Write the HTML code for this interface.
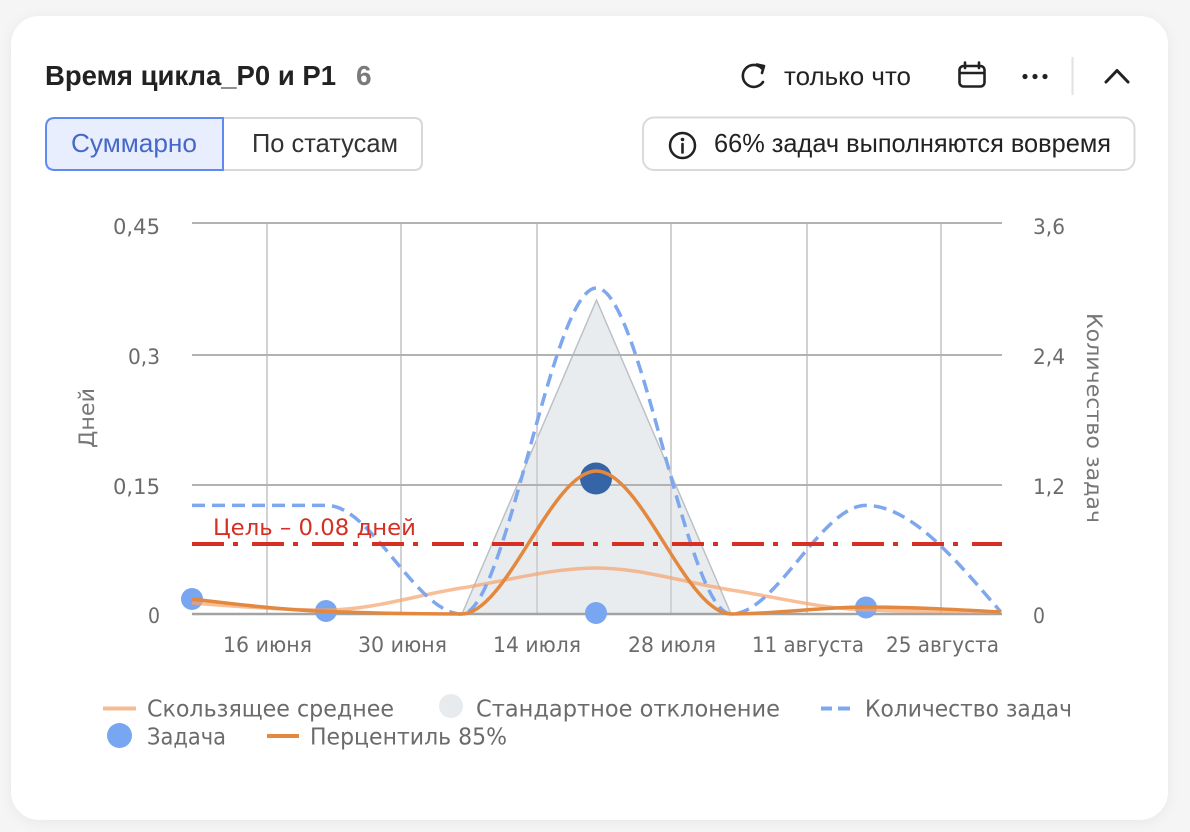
<!DOCTYPE html>
<html><head><meta charset="utf-8">
<style>
html,body{margin:0;padding:0;background:#f5f5f5;}
body{width:1190px;height:832px;position:relative;overflow:hidden;}
.card{position:absolute;left:11px;top:16px;width:1157px;height:804px;background:#fff;border-radius:28px;box-shadow:0 2px 14px rgba(0,0,0,0.06);}
svg{position:absolute;left:0;top:0;}
</style></head>
<body>
<div class="card"></div>
<svg width="1190" height="832" viewBox="0 0 1190 832" xmlns="http://www.w3.org/2000/svg">
  <!-- Header -->
  <text x="45" y="85" font-family="Liberation Sans, sans-serif" font-size="28" font-weight="bold" fill="#222" textLength="291" lengthAdjust="spacingAndGlyphs">Время цикла_P0 и P1</text>
  <text x="356" y="85" font-family="Liberation Sans, sans-serif" font-size="28" font-weight="bold" fill="#7a7a7a">6</text>

  <!-- refresh icon -->
  <path d="M762 68.5 A11 11 0 1 0 763 82" fill="none" stroke="#222" stroke-width="2.6" stroke-linecap="round"/>
  <path d="M757 64.5 L764 66 L762 73" fill="none" stroke="#222" stroke-width="2.6" stroke-linecap="round" stroke-linejoin="round"/>
  <text x="784" y="85" font-family="Liberation Sans, sans-serif" font-size="26" fill="#222" textLength="127" lengthAdjust="spacingAndGlyphs">только что</text>

  <!-- calendar icon -->
  <rect x="959.5" y="66" width="25" height="20.5" rx="4" fill="none" stroke="#222" stroke-width="2.6"/>
  <line x1="959.5" y1="73" x2="984.5" y2="73" stroke="#222" stroke-width="2.4"/>
  <line x1="965" y1="62.5" x2="965" y2="68" stroke="#222" stroke-width="2.6" stroke-linecap="round"/>
  <line x1="979" y1="62.5" x2="979" y2="68" stroke="#222" stroke-width="2.6" stroke-linecap="round"/>

  <!-- dots -->
  <circle cx="1025" cy="76.5" r="2.6" fill="#222"/>
  <circle cx="1035" cy="76.5" r="2.6" fill="#222"/>
  <circle cx="1045" cy="76.5" r="2.6" fill="#222"/>
  <line x1="1072.5" y1="57" x2="1072.5" y2="95" stroke="#e2e2e2" stroke-width="2"/>
  <polyline points="1106,82 1117,70.5 1128,82" fill="none" stroke="#222" stroke-width="3" stroke-linecap="round" stroke-linejoin="round"/>

  <!-- segmented buttons -->
  <path d="M223 118 L414 118 Q422 118 422 126 L422 162 Q422 170 414 170 L223 170 Z" fill="#fff" stroke="#d8d8d8" stroke-width="2"/>
  <path d="M223 118 L55 118 Q46 118 46 127 L46 161 Q46 170 55 170 L223 170 Z" fill="#e8eefd" stroke="#5f8bf0" stroke-width="2"/>
  <text x="71" y="152" font-family="Liberation Sans, sans-serif" font-size="26" fill="#4568c9" textLength="126" lengthAdjust="spacingAndGlyphs">Суммарно</text>
  <text x="252" y="152" font-family="Liberation Sans, sans-serif" font-size="26" fill="#333" textLength="146" lengthAdjust="spacingAndGlyphs">По статусам</text>

  <!-- info button -->
  <rect x="643" y="117.5" width="491.5" height="52.5" rx="11" fill="#fff" stroke="#dadada" stroke-width="2"/>
  <circle cx="682.5" cy="145.5" r="12.5" fill="none" stroke="#222" stroke-width="2.5"/>
  <circle cx="682.5" cy="139.5" r="1.8" fill="#222"/>
  <line x1="682.5" y1="144" x2="682.5" y2="152.5" stroke="#222" stroke-width="2.6" stroke-linecap="round"/>
  <text x="714" y="152" font-family="Liberation Sans, sans-serif" font-size="26" fill="#222" textLength="397" lengthAdjust="spacingAndGlyphs">66% задач выполняются вовремя</text>

  <!-- Std dev area -->
  <polygon points="462,614 596.5,300 731,614" fill="#d3d9e0" fill-opacity="0.5" stroke="#bcc1c6" stroke-width="1.5"/>

  <!-- vertical grid -->
  <g stroke="#d2d2d2" stroke-width="2">
    <line x1="267" y1="223" x2="267" y2="614"/>
    <line x1="401" y1="223" x2="401" y2="614"/>
    <line x1="537" y1="223" x2="537" y2="614"/>
    <line x1="671" y1="223" x2="671" y2="614"/>
    <line x1="807" y1="223" x2="807" y2="614"/>
    <line x1="941" y1="223" x2="941" y2="614"/>
  </g>
  <!-- horizontal grid -->
  <g stroke="#b2b2b2" stroke-width="2">
    <line x1="192" y1="223" x2="1002" y2="223"/>
    <line x1="192" y1="355" x2="1002" y2="355"/>
    <line x1="192" y1="485" x2="1002" y2="485"/>
  </g>
  <line x1="192" y1="614" x2="1002" y2="614" stroke="#a3a3a3" stroke-width="2.5"/>

  <!-- Task points -->
  <circle cx="192" cy="599" r="11" fill="#79a6f0"/>
  <circle cx="326" cy="611" r="11" fill="#79a6f0"/>
  <circle cx="596" cy="613" r="11" fill="#79a6f0"/>
  <circle cx="866" cy="607.5" r="11" fill="#79a6f0"/>
  <circle cx="596" cy="478.5" r="16" fill="#3565a6"/>

  <!-- Moving average -->
  <path d="M192,603 C236.9,606.5 281.9,610 326.8,610 C371.7,610 416.7,595 461.6,588 C506.5,581 551.5,568 596.4,568 C641.3,568 686.3,583 731.2,590 C776.1,597 821.1,608.7 866,610 C910.9,611.3 955.9,611.7 1000.8,612" fill="none" stroke="#f3a36c" stroke-opacity="0.7" stroke-width="3.5"/>

  <!-- Count dashed -->
  <path d="M192,505.4 C236.9,505.4 281.9,505.4 326.8,505.4 C371.7,505.4 416.7,614 461.6,614 C506.5,614 551.5,288 596.4,288 C641.3,288 686.3,614 731.2,614 C776.1,614 821.1,505.4 866,505.4 C910.9,505.4 955.9,559.7 1000.8,612" fill="none" stroke="#7ea7ee" stroke-width="3.5" stroke-dasharray="13,7"/>

  <!-- Percentile 85 -->
  <path d="M192,599 C236.9,604.4 281.9,609.8 326.8,611.5 C371.7,613.2 416.7,614 461.6,614 C506.5,614 551.5,471 596.4,471 C641.3,471 686.3,614 731.2,614 C776.1,614 821.1,607 866,607 C910.9,607 955.9,609.5 1000.8,612" fill="none" stroke="#e2883f" stroke-width="3.5"/>

  <!-- Target line -->
  <line x1="192" y1="544" x2="1002" y2="544" stroke="#d63024" stroke-width="4" stroke-dasharray="32,9,5,14"/>
  <text x="213" y="535" font-family="DejaVu Sans, sans-serif" font-size="22" fill="#d63024" textLength="203" lengthAdjust="spacingAndGlyphs">Цель – 0.08 дней</text>

  <!-- Y axis left labels -->
  <g font-family="DejaVu Sans, sans-serif" font-size="21" fill="#6b6b6b">
    <text x="113" y="234" textLength="47" lengthAdjust="spacingAndGlyphs">0,45</text>
    <text x="128" y="364" textLength="32" lengthAdjust="spacingAndGlyphs">0,3</text>
    <text x="113" y="494" textLength="47" lengthAdjust="spacingAndGlyphs">0,15</text>
    <text x="148" y="623" textLength="12" lengthAdjust="spacingAndGlyphs">0</text>
    <!-- right -->
    <text x="1033" y="234" textLength="32" lengthAdjust="spacingAndGlyphs">3,6</text>
    <text x="1033" y="364" textLength="32" lengthAdjust="spacingAndGlyphs">2,4</text>
    <text x="1033" y="494" textLength="32" lengthAdjust="spacingAndGlyphs">1,2</text>
    <text x="1033" y="623" textLength="12" lengthAdjust="spacingAndGlyphs">0</text>
    <!-- x labels -->
    <text x="223" y="652" textLength="89" lengthAdjust="spacingAndGlyphs">16 июня</text>
    <text x="358" y="652" textLength="89" lengthAdjust="spacingAndGlyphs">30 июня</text>
    <text x="493" y="652" textLength="88" lengthAdjust="spacingAndGlyphs">14 июля</text>
    <text x="628" y="652" textLength="88" lengthAdjust="spacingAndGlyphs">28 июля</text>
    <text x="752" y="652" textLength="112" lengthAdjust="spacingAndGlyphs">11 августа</text>
    <text x="886" y="652" textLength="113" lengthAdjust="spacingAndGlyphs">25 августа</text>
  </g>

  <!-- axis titles -->
  <text transform="translate(94,418) rotate(-90)" text-anchor="middle" font-family="DejaVu Sans, sans-serif" font-size="21" fill="#777" textLength="60" lengthAdjust="spacingAndGlyphs">Дней</text>
  <text transform="translate(1087,418) rotate(90)" text-anchor="middle" font-family="DejaVu Sans, sans-serif" font-size="21" fill="#777" textLength="210" lengthAdjust="spacingAndGlyphs">Количество задач</text>

  <!-- Legend -->
  <line x1="103" y1="708.5" x2="136" y2="708.5" stroke="#f5bc94" stroke-width="4"/>
  <circle cx="451" cy="706" r="12" fill="#e8ebee"/>
  <line x1="821" y1="708.5" x2="832" y2="708.5" stroke="#7ea7ee" stroke-width="4"/>
  <line x1="838" y1="708.5" x2="850" y2="708.5" stroke="#7ea7ee" stroke-width="4"/>
  <circle cx="119.5" cy="735.5" r="12.5" fill="#79a6f0"/>
  <line x1="267" y1="736" x2="299" y2="736" stroke="#e2883f" stroke-width="4"/>
  <g font-family="DejaVu Sans, sans-serif" font-size="23" fill="#6b6b6b">
    <text x="147" y="716.5" textLength="247" lengthAdjust="spacingAndGlyphs">Скользящее среднее</text>
    <text x="476" y="716.5" textLength="304" lengthAdjust="spacingAndGlyphs">Стандартное отклонение</text>
    <text x="865" y="716.5" textLength="207" lengthAdjust="spacingAndGlyphs">Количество задач</text>
    <text x="147" y="744.5" textLength="79" lengthAdjust="spacingAndGlyphs">Задача</text>
    <text x="310" y="744.5" textLength="197" lengthAdjust="spacingAndGlyphs">Перцентиль 85%</text>
  </g>
</svg>
</body></html>
